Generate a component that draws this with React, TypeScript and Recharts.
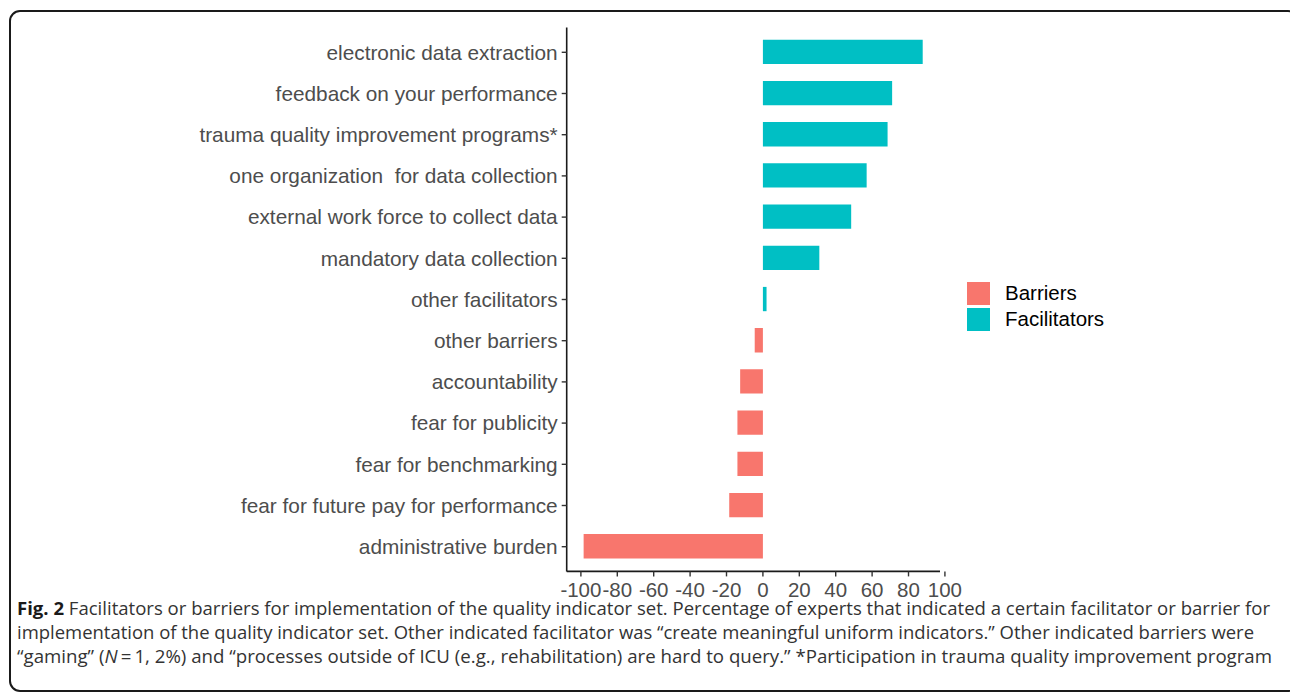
import React from 'react';
import { BarChart, Bar, XAxis, YAxis, Cell, Legend } from 'recharts';

const categories = [
  'electronic data extraction',
  'feedback on your performance',
  'trauma quality improvement programs*',
  'one organization\u00A0 for data collection',
  'external work force to collect data',
  'mandatory data collection',
  'other facilitators',
  'other barriers',
  'accountability',
  'fear for publicity',
  'fear for benchmarking',
  'fear for future pay for performance',
  'administrative burden',
];
const percentages = [87.8, 71, 68.5, 57, 48.5, 31, 2, -4.5, -12.5, -14, -14, -18.5, -98.5];
const categoryGroup = [
  'Facilitators', 'Facilitators', 'Facilitators', 'Facilitators', 'Facilitators', 'Facilitators', 'Facilitators',
  'Barriers', 'Barriers', 'Barriers', 'Barriers', 'Barriers', 'Barriers',
];
const seriesNames = ['Barriers', 'Facilitators'];
const seriesColors = ['#F8766D', '#00BFC4'];
const xTicks = [-100, -80, -60, -40, -20, 0, 20, 40, 60, 80, 100];
const xDomain = [-107.8, 97.3];

const data = categories.map((c, i) => ({ category: c, value: percentages[i], group: categoryGroup[i] }));

const colorOf = (g: string) => seriesColors[seriesNames.indexOf(g)];

const LegendBox = () => (
  <div style={{ fontFamily: 'Liberation Sans, Arial, sans-serif', fontSize: 20.5, color: '#000', whiteSpace: 'nowrap', width: 200 }}>
    {seriesNames.map((n, i) => (
      <div key={n} style={{ display: 'flex', alignItems: 'center', height: 26 }}>
        <div style={{ width: 23, height: 23, background: seriesColors[i], marginRight: 15 }} />
        <span>{n}</span>
      </div>
    ))}
  </div>
);

export default function App() {
  const capStyle: React.CSSProperties = { fontFamily: 'Open Sans, sans-serif', fontSize: 17.5 };
  return (
    <div style={{ position: 'fixed', left: 0, top: 0, width: 1290, height: 693, overflow: 'hidden', background: '#fff' }}>
      <div style={{ position: 'absolute', left: 9, top: 10, width: 1290, height: 682, border: '2px solid #1a1a1a', borderRadius: 11, boxSizing: 'border-box' }} />
      <div style={{ position: 'absolute', left: 0, top: 0 }}>
        <BarChart
          width={1290}
          height={620}
          data={data}
          layout="vertical"
          margin={{ top: 27.6, right: 350, bottom: 0, left: 0 }}
          barCategoryGap={0}
        >
          <XAxis
            type="number"
            domain={xDomain}
            ticks={xTicks}
            allowDataOverflow
            height={48.6}
            tickSize={5}
            tickMargin={6}
            interval={0}
            stroke="#1a1a1a"
            strokeWidth={1.6}
            tickLine={{ stroke: '#333', strokeWidth: 1.4 }}
            tick={{ fill: '#4d4d4d', fontSize: 20.5, fontFamily: 'Liberation Sans, Arial, sans-serif' }}
          />
          <YAxis
            type="category"
            dataKey="category"
            width={566.7}
            tickSize={5}
            tickMargin={4}
            interval={0}
            padding={{ top: 4.1, bottom: 4.1 }}
            stroke="#1a1a1a"
            strokeWidth={1.6}
            tickLine={{ stroke: '#333', strokeWidth: 1.4 }}
            tick={{ fill: '#4d4d4d', fontSize: 20.8, fontFamily: 'Liberation Sans, Arial, sans-serif' }}
          />
          <Legend
            layout="vertical"
            align="right"
            verticalAlign="middle"
            content={() => <LegendBox />}
            wrapperStyle={{ position: 'absolute', left: 967, top: 280, width: 0, height: 0, overflow: 'visible' }}
          />
          <Bar dataKey="value" barSize={24.3} isAnimationActive={false}>
            {data.map((d, i) => (
              <Cell key={i} fill={colorOf(d.group)} />
            ))}
          </Bar>
        </BarChart>
      </div>
      <svg width={1290} height={693} style={{ position: 'absolute', left: 0, top: 0 }}>
        <text x={17} y={615} textLength={1253} lengthAdjust="spacingAndGlyphs" fill="#333" style={capStyle}>
          <tspan fontWeight={700} fill="#1a1a1a">{'Fig. 2'}</tspan>
          {' Facilitators or barriers for implementation of the quality indicator set. Percentage of experts that indicated a certain facilitator or barrier for'}
        </text>
        <text x={17} y={639} textLength={1237} lengthAdjust="spacingAndGlyphs" fill="#333" style={capStyle}>
          {'implementation of the quality indicator set. Other indicated facilitator was \u201Ccreate meaningful uniform indicators.\u201D Other indicated barriers were'}
        </text>
        <text x={17} y={663} textLength={1255} lengthAdjust="spacingAndGlyphs" fill="#333" style={capStyle}>
          {'\u201Cgaming\u201D ('}
          <tspan fontStyle="italic">N</tspan>
          {'\u2009=\u20091, 2%) and \u201Cprocesses outside of ICU (e.g., rehabilitation) are hard to query.\u201D *Participation in trauma quality improvement program'}
        </text>
      </svg>
    </div>
  );
}
